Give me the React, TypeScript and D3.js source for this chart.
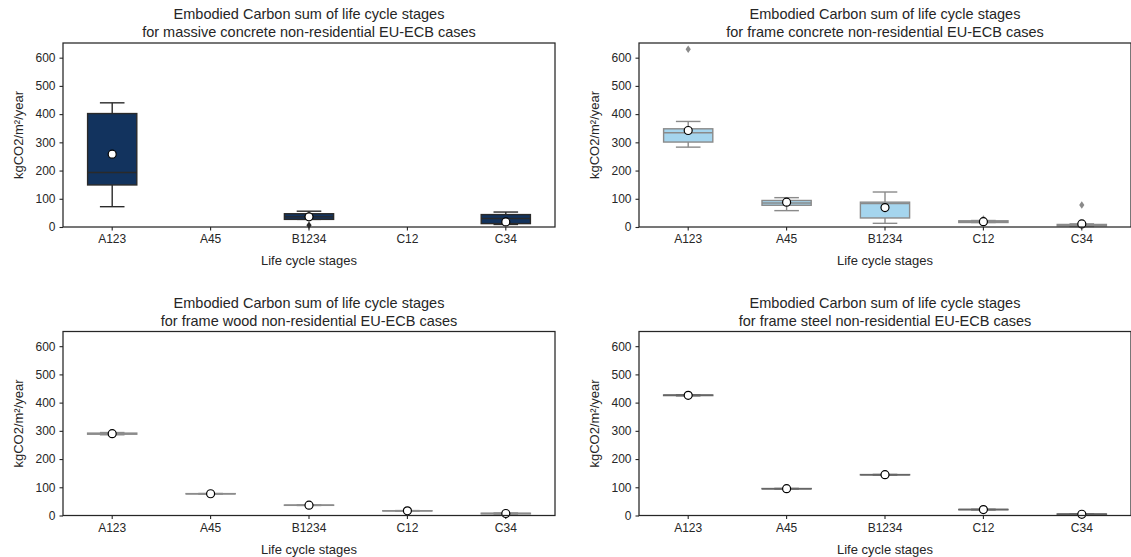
import React, {useRef, useEffect} from 'react';
import * as d3 from 'd3';

const categories = ['A123', 'A45', 'B1234', 'C12', 'C34'];
const yTicks = [0, 100, 200, 300, 400, 500, 600];
const yMax = 652;

// per category: [whiskerLow, q1, median, q3, whiskerHigh, mean]
const massiveStats = [[72, 149, 193, 402, 440, 258], null, [27, 27, 36, 47, 56, 36], null, [9, 12, 30, 44, 53, 18]];
const massiveOutliers = [[], [], [6], [], []];

const concreteStats = [[283, 301, 334, 348, 374, 342], [58, 77, 85, 94, 104, 88], [13, 32, 83, 88, 124, 69], [16, 16, 19, 22, 23, 19], [2, 4, 7, 9, 11, 11]];
const concreteOutliers = [[630], [], [], [28], [78]];

const woodStats = [[286, 288, 290, 292, 294, 290], [76, 76.5, 77, 77.5, 78, 77], [35.5, 36, 36.5, 37, 37.5, 36.5], [15.5, 16, 16.5, 17, 17.5, 16.5], [5, 6, 7, 8, 9, 7]];
const woodOutliers = [[], [], [], [], []];

const steelStats = [[424, 425, 426, 427, 428, 426], [94, 94.5, 95, 95.5, 96, 95], [143.5, 144, 144.5, 145, 145.5, 144.5], [20, 20.5, 21, 21.5, 22, 21], [3, 3.5, 4.5, 5.5, 6, 4.5]];
const steelOutliers = [[], [], [], [], []];

const panels = [
  {title: 'for massive concrete non-residential EU-ECB cases', stats: massiveStats, outliers: massiveOutliers,
    fill: '#12335e', line: '#2a2a2a', x: 63, y: 43},
  {title: 'for frame concrete non-residential EU-ECB cases', stats: concreteStats, outliers: concreteOutliers,
    fill: '#a5d5ee', line: '#8a8a8a', x: 639, y: 43},
  {title: 'for frame wood non-residential EU-ECB cases', stats: woodStats, outliers: woodOutliers,
    fill: '#cfcfcf', line: '#8c8c8c', x: 63, y: 331.5},
  {title: 'for frame steel non-residential EU-ECB cases', stats: steelStats, outliers: steelOutliers,
    fill: '#9a9a9a', line: '#666666', x: 639, y: 331.5},
];

const W = 1131;
const H = 557;
const PW = 492;
const PH = 184;
const font = '"Liberation Sans", Arial, sans-serif';
const textColor = '#262626';

export default () => {
  const chart = useRef(null);

  useEffect(() => {
    const ele = chart.current;
    d3.select(ele).selectAll('*').remove();

    const svg = d3.select(ele)
      .append('svg')
      .attr('width', W)
      .attr('height', H)
      .style('font-family', font);

    panels.forEach(p => {
      const g = svg.append('g').attr('transform', `translate(${p.x},${p.y})`);

      const x = d3.scaleBand().domain(categories).range([0, PW]).padding(0);
      const y = d3.scaleLinear().domain([0, yMax]).range([PH, 0]);
      const bw = x.bandwidth() * 0.5;

      // 标题
      const title = g.append('text')
        .attr('x', PW / 2)
        .attr('text-anchor', 'middle')
        .attr('font-size', '14.5px')
        .attr('fill', textColor);
      title.append('tspan').attr('x', PW / 2).attr('y', -24).text('Embodied Carbon sum of life cycle stages');
      title.append('tspan').attr('x', PW / 2).attr('y', -6).text(p.title);

      // 坐标轴
      const xAxis = g.append('g')
        .attr('transform', `translate(0,${PH})`)
        .call(d3.axisBottom(x).tickSize(3.5).tickPadding(4));
      const yAxis = g.append('g')
        .call(d3.axisLeft(y).tickValues(yTicks).tickSize(3.5).tickPadding(4));
      [xAxis, yAxis].forEach(a => {
        a.select('.domain').remove();
        a.selectAll('line').attr('stroke', textColor).attr('stroke-width', 1.1);
        a.selectAll('text').attr('font-size', '12px').attr('fill', textColor).attr('font-family', font);
      });

      g.append('text')
        .attr('x', PW / 2)
        .attr('y', PH + 38)
        .attr('text-anchor', 'middle')
        .attr('font-size', '13px')
        .attr('fill', textColor)
        .text('Life cycle stages');

      g.append('text')
        .attr('transform', `translate(-40,${PH / 2}) rotate(-90)`)
        .attr('text-anchor', 'middle')
        .attr('font-size', '13px')
        .attr('fill', textColor)
        .text('kgCO2/m²/year');

      // 箱线图
      p.stats.forEach((s, i) => {
        if (!s) return;
        const cx = x(categories[i]) + x.bandwidth() / 2;
        const [lo, q1, med, q3, hi] = s;
        const bg = g.append('g');
        bg.append('line')
          .attr('x1', cx).attr('x2', cx).attr('y1', y(q3)).attr('y2', y(hi))
          .attr('stroke', p.line).attr('stroke-width', 1.4);
        bg.append('line')
          .attr('x1', cx).attr('x2', cx).attr('y1', y(q1)).attr('y2', y(lo))
          .attr('stroke', p.line).attr('stroke-width', 1.4);
        [lo, hi].forEach(v => {
          bg.append('line')
            .attr('x1', cx - bw / 4).attr('x2', cx + bw / 4).attr('y1', y(v)).attr('y2', y(v))
            .attr('stroke', p.line).attr('stroke-width', 1.4);
        });
        bg.append('rect')
          .attr('x', cx - bw / 2)
          .attr('y', y(q3))
          .attr('width', bw)
          .attr('height', Math.max(0, y(q1) - y(q3)))
          .attr('fill', p.fill)
          .attr('stroke', p.line)
          .attr('stroke-width', 1.4);
        bg.append('line')
          .attr('x1', cx - bw / 2).attr('x2', cx + bw / 2).attr('y1', y(med)).attr('y2', y(med))
          .attr('stroke', p.line).attr('stroke-width', 1.4);

        p.outliers[i].forEach(v => {
          const oy = y(v);
          bg.append('path')
            .attr('d', `M${cx},${oy - 3.8}L${cx + 2.6},${oy}L${cx},${oy + 3.8}L${cx - 2.6},${oy}Z`)
            .attr('fill', p.line);
        });
      });

      // 均值
      p.stats.forEach((s, i) => {
        if (!s) return;
        const cx = x(categories[i]) + x.bandwidth() / 2;
        g.append('circle')
          .attr('cx', cx)
          .attr('cy', y(s[5]))
          .attr('r', 4)
          .attr('fill', '#fff')
          .attr('stroke', '#000')
          .attr('stroke-width', 1.2);
      });

      // 边框
      g.append('rect')
        .attr('x', 0)
        .attr('y', 0)
        .attr('width', PW)
        .attr('height', PH)
        .attr('fill', 'none')
        .attr('stroke', textColor)
        .attr('stroke-width', 1.25);
    });
  }, []);

  return (
    <div ref={chart} style={{position: 'absolute', top: 0, left: 0}}></div>
  );
};
